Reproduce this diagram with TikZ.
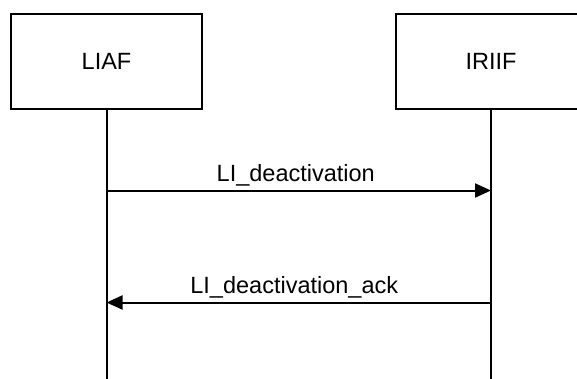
\documentclass[tikz,border=0pt]{standalone}
\usepackage{fontspec}
\setmainfont{Liberation Sans}
\usetikzlibrary{arrows.meta}

\begin{document}
\begin{tikzpicture}[x=1pt, y=-1pt,
  entity/.style={draw, line width=2pt, minimum width=191pt, minimum height=95pt,
    inner sep=0pt, font=\fontsize{23.5}{28}\selectfont},
  lifeline/.style={line width=2pt},
  msg/.style={line width=2pt, -{Triangle[length=16pt, width=14pt]}},
  msglabel/.style={anchor=base, yshift=9.5pt, font=\fontsize{23.5}{28}\selectfont}]
\useasboundingbox (0,0) rectangle (577,378);
\begin{scope}
\clip (0,0) rectangle (577,378);

% the two entities and their lifelines
\node[entity] (liaf) at (106.5,61) {LIAF};
\node[entity] (iriif) at (491,61) {IRIIF};
\coordinate (liaf-end) at (106.5,380);
\coordinate (iriif-end) at (491,380);
\draw[lifeline] (liaf) -- (liaf-end);
\draw[lifeline] (iriif) -- (iriif-end);

% message points on the lifelines
\coordinate (liaf-m1) at (liaf |- 0,190.5);
\coordinate (iriif-m1) at (iriif |- 0,190.5);
\coordinate (liaf-m2) at (liaf |- 0,302.5);
\coordinate (iriif-m2) at (iriif |- 0,302.5);

\draw[msg] (liaf-m1) -- node[msglabel, xshift=-3pt] {LI\_deactivation} (iriif-m1);
\draw[msg] (iriif-m2) -- node[msglabel, xshift=-4.5pt] {LI\_deactivation\_ack} (liaf-m2);
\end{scope}
\end{tikzpicture}
\end{document}
